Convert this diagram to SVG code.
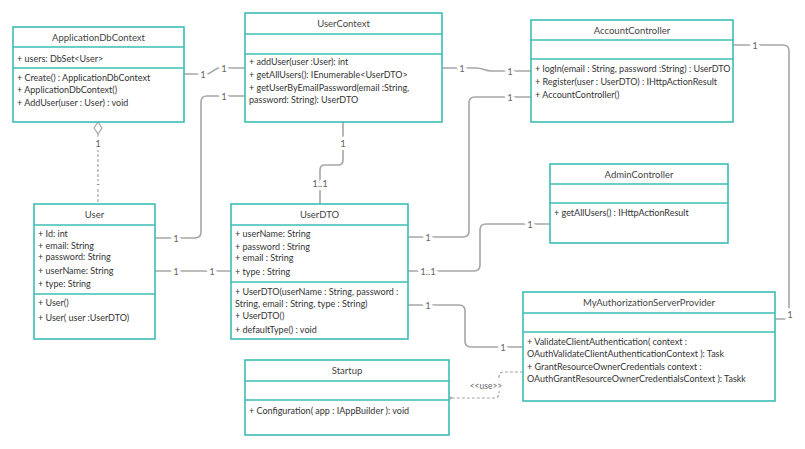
<svg xmlns="http://www.w3.org/2000/svg" width="805" height="449" viewBox="0 0 805 449">
  <style>
    .box { fill: #fff; stroke: #3dbdb5; stroke-width: 1.6; }
    .sep { stroke: #3dbdb5; stroke-width: 1.6; }
    .title { font-family: Lato, "Liberation Sans", sans-serif; font-size: 9.5px; font-weight: 400; fill: #444; text-anchor: middle; }
    .txt { font-family: Lato, "Liberation Sans", sans-serif; font-size: 9px; font-weight: 400; fill: #333; }
    .conn { fill: none; stroke: #a6a6a6; stroke-width: 1.6; }
    .dash { fill: none; stroke: #a6a6a6; stroke-width: 1.2; stroke-dasharray: 3 2; }
    .lbl { font-family: Lato, "Liberation Sans", sans-serif; font-size: 9.5px; fill: #666; text-anchor: middle; stroke: #fff; stroke-width: 6; paint-order: stroke; }
  </style>
  <defs>
    <marker id="open" markerWidth="10" markerHeight="10" refX="1" refY="5" orient="auto" markerUnits="userSpaceOnUse">
      <path d="M8,1 L1,5 L8,9" fill="none" stroke="#a6a6a6" stroke-width="1.2"/>
    </marker>
  </defs>
  <rect width="805" height="449" fill="#fff"/>

  <g id="connectors">
    <!-- ApplicationDbContext - UserContext -->
    <path class="conn" d="M184,74 H208 L218,68 H245"/>
    <text class="lbl" x="203" y="77.5">1</text>
    <text class="lbl" x="224" y="71.5">1</text>
    <!-- User - UserContext -->
    <path class="conn" d="M155,238 H195 Q201,238 201,232 V102 Q201,96 207,96 H245"/>
    <text class="lbl" x="176" y="241.5">1</text>
    <text class="lbl" x="224" y="99.5">1</text>
    <!-- UserContext - AccountController -->
    <path class="conn" d="M442,68 H476 C484,68 484,71 492,71 H531"/>
    <text class="lbl" x="462" y="71.5">1</text>
    <text class="lbl" x="510" y="74.5">1</text>
    <!-- AccountController - UserDTO -->
    <path class="conn" d="M531,97 H475 Q469,97 469,103 V231 Q469,237 463,237 H408"/>
    <text class="lbl" x="510" y="100.5">1</text>
    <text class="lbl" x="428" y="240.5">1</text>
    <!-- AdminController - UserDTO -->
    <path class="conn" d="M550,224 H486 Q480,224 480,230 V265 Q480,271 474,271 H408"/>
    <text class="lbl" x="530" y="227.5">1</text>
    <text class="lbl" x="428" y="274.5">1..1</text>
    <!-- UserDTO - MyAuthorizationServerProvider -->
    <path class="conn" d="M408,305 H459 Q465,305 465,311 V341 Q465,347 471,347 H523"/>
    <text class="lbl" x="428" y="308.5">1</text>
    <text class="lbl" x="503" y="350.5">1</text>
    <!-- AccountController - MyAuthorizationServerProvider -->
    <path class="conn" d="M733,45 H783 Q789,45 789,51 V319 H775"/>
    <text class="lbl" x="755" y="48.5">1</text>
    <text class="lbl" x="790" y="317.5">1</text>
    <!-- UserContext - UserDTO -->
    <path class="conn" d="M343,122 V160 Q343,165 338,165 H325 Q320,165 320,170 V204"/>
    <text class="lbl" x="343" y="146.5">1</text>
    <text class="lbl" x="320" y="186.5">1..1</text>
    <!-- User - UserDTO -->
    <path class="conn" d="M155,271 H231"/>
    <text class="lbl" x="176" y="274.5">1</text>
    <text class="lbl" x="212" y="274.5">1</text>
    <!-- ApplicationDbContext aggregation User -->
    <path class="dash" d="M98,134 V204"/>
    <path d="M98,122 L102,128 L98,134 L94,128 Z" fill="#fff" stroke="#a6a6a6" stroke-width="1.2"/>
    <text class="lbl" x="98" y="146.5">1</text>
    <text class="lbl" x="98" y="187">-</text>
    <!-- MyAuthorizationServerProvider uses Startup -->
    <path class="dash" d="M523,372 H504 Q499,372 499,377 V393 Q499,398 494,398 H452" marker-end="url(#open)"/>
    <text class="lbl" x="486" y="389" style="font-size:8.5px">&lt;&lt;use&gt;&gt;</text>
  </g>

  <g id="ApplicationDbContext">
    <rect class="box" x="13" y="27" width="171" height="95"/>
    <line class="sep" x1="13" y1="47" x2="184" y2="47"/>
    <line class="sep" x1="13" y1="68" x2="184" y2="68"/>
    <text class="title" x="98.5" y="41">ApplicationDbContext</text>
    <text class="txt" x="17" y="62">+  users: DbSet&lt;User&gt;</text>
    <text class="txt" x="17" y="81">+ Create() : ApplicationDbContext</text>
    <text class="txt" x="17" y="93">+ ApplicationDbContext()</text>
    <text class="txt" x="17" y="106">+ AddUser(user : User) : void</text>
  </g>

  <g id="UserContext">
    <rect class="box" x="245" y="13" width="197" height="109"/>
    <line class="sep" x1="245" y1="34" x2="442" y2="34"/>
    <line class="sep" x1="245" y1="54" x2="442" y2="54"/>
    <text class="title" x="343.5" y="27">UserContext</text>
    <text class="txt" x="249" y="65">+ addUser(user :User): int</text>
    <text class="txt" x="249" y="78">+ getAllUsers(): IEnumerable&lt;UserDTO&gt;</text>
    <text class="txt" x="249" y="91">+ getUserByEmailPassword(email :String,</text>
    <text class="txt" x="249" y="103">password: String): UserDTO</text>
  </g>

  <g id="AccountController">
    <rect class="box" x="531" y="20" width="202" height="102"/>
    <line class="sep" x1="531" y1="40" x2="733" y2="40"/>
    <line class="sep" x1="531" y1="59" x2="733" y2="59"/>
    <text class="title" x="632" y="34">AccountController</text>
    <text class="txt" x="535" y="72">+ logIn(email : String, password :String) : UserDTO</text>
    <text class="txt" x="535" y="85">+ Register(user : UserDTO) : IHttpActionResult</text>
    <text class="txt" x="535" y="98">+ AccountController()</text>
  </g>

  <g id="User">
    <rect class="box" x="34" y="204" width="121" height="135"/>
    <line class="sep" x1="34" y1="225" x2="155" y2="225"/>
    <line class="sep" x1="34" y1="294" x2="155" y2="294"/>
    <text class="title" x="94.5" y="218">User</text>
    <text class="txt" x="38" y="237">+ Id: int</text>
    <text class="txt" x="38" y="249">+ email: String</text>
    <text class="txt" x="38" y="260">+ password: String</text>
    <text class="txt" x="38" y="274">+ userName: String</text>
    <text class="txt" x="38" y="287">+ type: String</text>
    <text class="txt" x="38" y="306">+ User()</text>
    <text class="txt" x="38" y="321">+ User( user :UserDTO)</text>
  </g>

  <g id="UserDTO">
    <rect class="box" x="231" y="204" width="177" height="135"/>
    <line class="sep" x1="231" y1="225" x2="408" y2="225"/>
    <line class="sep" x1="231" y1="282" x2="408" y2="282"/>
    <text class="title" x="319.5" y="218">UserDTO</text>
    <text class="txt" x="235" y="237">+ userName: String</text>
    <text class="txt" x="235" y="250">+ password : String</text>
    <text class="txt" x="235" y="261">+ email : String</text>
    <text class="txt" x="235" y="275">+ type : String</text>
    <text class="txt" x="235" y="295">+ UserDTO(userName : String, password :</text>
    <text class="txt" x="235" y="307">String, email : String, type : String)</text>
    <text class="txt" x="235" y="319">+ UserDTO()</text>
    <text class="txt" x="235" y="333">+ defaultType() : void</text>
  </g>

  <g id="AdminController">
    <rect class="box" x="550" y="164" width="178" height="79"/>
    <line class="sep" x1="550" y1="184" x2="728" y2="184"/>
    <line class="sep" x1="550" y1="203" x2="728" y2="203"/>
    <text class="title" x="639" y="178">AdminController</text>
    <text class="txt" x="554" y="216">+ getAllUsers() : IHttpActionResult</text>
  </g>

  <g id="MyAuthorizationServerProvider">
    <rect class="box" x="523" y="292" width="252" height="109"/>
    <line class="sep" x1="523" y1="313" x2="775" y2="313"/>
    <line class="sep" x1="523" y1="332" x2="775" y2="332"/>
    <text class="title" x="649" y="306">MyAuthorizationServerProvider</text>
    <text class="txt" x="527" y="345">+ ValidateClientAuthentication( context :</text>
    <text class="txt" x="527" y="357">OAuthValidateClientAuthenticationContext ): Task</text>
    <text class="txt" x="527" y="370">+ GrantResourceOwnerCredentials context :</text>
    <text class="txt" x="527" y="382">OAuthGrantResourceOwnerCredentialsContext ): Taskk</text>
  </g>

  <g id="Startup">
    <rect class="box" x="245" y="360" width="204" height="75"/>
    <line class="sep" x1="245" y1="381" x2="449" y2="381"/>
    <line class="sep" x1="245" y1="400" x2="449" y2="400"/>
    <text class="title" x="347" y="374">Startup</text>
    <text class="txt" x="249" y="414">+ Configuration( app : IAppBuilder ): void</text>
  </g>
</svg>
